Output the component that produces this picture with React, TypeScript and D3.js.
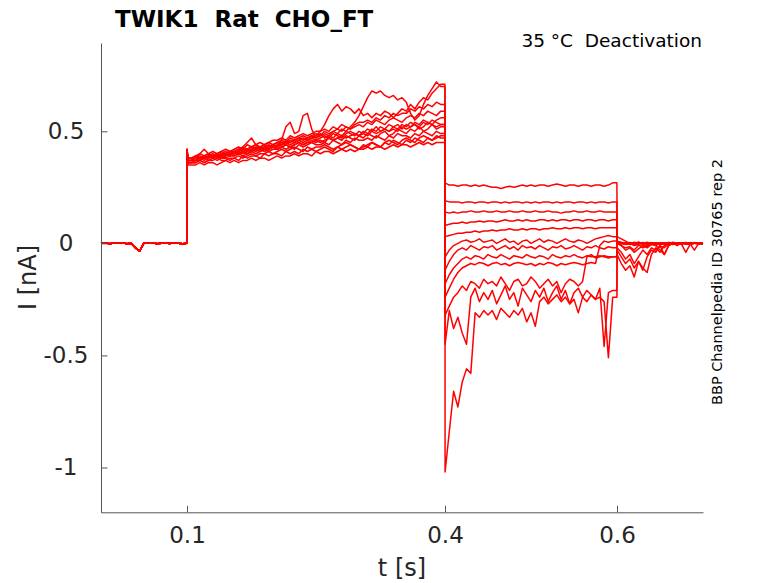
import React, { useEffect, useRef } from "react";
import * as d3 from "d3";

// ---- text ----
const titleText = "TWIK1  Rat  CHO_FT";
const conditionText = "35 °C  Deactivation";
const sourceText = "BBP Channelpedia ID 30765 rep 2";
const xLabel = "t [s]";
const yLabel = "I [nA]";
const xTicks = [0.1, 0.4, 0.6];
const yTicks = [-1, -0.5, 0, 0.5];

// All current values below are in units of 0.01 nA.

// holding level before the step, t = 0 .. 0.095 (5 ms steps)
const preI = [0, 0.3, -0.2, 0.2, 0, 0.3, -0.2, 0.1, -2, -3.5, 0.2, 0, 0.3, -0.2, 0.1, 0.2, -0.1, 0.3, 0, -0.2];

// capacitive spike at the onset of the step (t = 0.1)
const onsetSpike = [41, 40, 42, 39, 41, 40, 42, 41, 40, 39, 41, 42];

// activation phase, t = 0.105 .. 0.395 (5 ms steps)
const ramp1 = [35,35,36,35,36,36,35,36,37,36, 37,36,37,37,38,37,38,38,37,38, 39,38,39,39,40,39,40,40,39,41, 40,41,41,40,41,42,41,42,41,42, 42,43,42,43,43,42,43,44,43,44, 44,43,44,45,44,45,44,45,45];
const ramp2 = [36,36,37,36,37,37,38,37,37,38, 38,37,39,38,39,39,38,40,39,40, 40,39,41,40,41,40,42,41,42,41, 42,43,42,41,43,42,43,44,43,42, 44,43,45,44,43,45,44,46,45,44, 46,45,47,46,45,47,46,47,48];
const ramp3 = [37,38,40,42,40,39,38,39,38,39, 39,40,39,40,41,40,41,42,41,42, 42,43,42,43,42,44,43,44,45,44, 44,45,44,46,45,44,46,45,47,46, 46,47,46,48,47,46,48,47,49,48, 48,47,49,48,50,49,48,50,49];
const ramp4 = [36,37,37,38,37,38,39,38,39,40, 40,41,43,45,47,44,42,41,42,43, 42,43,44,43,44,45,44,45,46,45, 46,45,47,46,47,46,48,47,46,48, 47,49,48,47,49,50,48,49,51,50, 49,51,50,52,50,51,53,51,52];
const ramp5 = [37,38,37,38,39,38,39,40,39,40, 40,41,40,41,42,41,42,43,42,43, 43,46,52,54,49,50,57,58,51,47, 49,47,48,47,49,48,50,49,48,50, 49,51,50,52,50,51,53,52,51,53, 52,54,53,52,54,53,55,54,53];
const ramp6 = [37,37,38,38,39,38,39,40,40,39, 41,40,41,42,41,42,43,42,43,44, 43,44,45,44,45,46,45,46,47,46, 47,48,47,49,48,47,49,50,49,48, 50,49,51,50,52,51,50,52,53,51, 53,52,54,53,55,54,53,55,56];
const ramp7 = [37,38,38,39,38,39,40,39,40,41, 40,41,42,41,42,43,42,43,44,43, 44,45,44,46,45,46,47,46,47,48, 50,53,57,60,62,59,61,60,58,60, 57,58,56,58,57,59,58,56,58,60, 59,62,60,63,65,64,67,69,71];
const ramp8 = [38,38,39,38,39,40,39,40,41,40, 41,42,41,42,43,42,43,44,43,44, 45,44,46,45,46,47,46,47,48,47, 48,49,48,50,49,51,50,52,54,57, 61,65,68,67,68,66,65,66,64,65, 63,58,55,57,62,66,69,72,70];
const ramp9 = [38,39,38,39,40,39,40,41,40,41, 41,42,43,42,43,44,43,44,45,44, 45,46,45,47,46,47,48,47,48,49, 48,50,49,50,51,50,52,51,52,53, 52,54,53,55,54,53,55,56,55,54, 56,57,56,58,57,59,58,57,59];
const ramp10 = [36,36,37,36,37,38,37,38,38,37, 38,39,38,39,40,39,40,40,41,40, 41,42,41,42,43,42,41,43,42,43, 43,44,43,42,43,44,45,44,43,42, 43,44,45,44,43,45,46,45,44,46, 47,46,45,47,48,47,46,48,47];
const ramp11 = [37,37,38,37,38,39,38,39,39,40, 39,40,41,40,41,42,41,42,42,43, 42,43,44,43,44,45,44,45,45,46, 45,46,47,46,47,48,47,48,49,48, 49,48,50,49,50,51,50,51,50,52, 51,52,53,51,52,54,53,52,53];
const ramp12 = [38,39,40,39,40,41,40,41,42,41, 42,43,42,44,43,44,45,44,45,46, 46,47,46,48,47,48,49,48,49,50, 50,51,50,52,51,53,52,51,53,54, 54,55,54,56,55,57,56,58,57,58, 58,60,59,61,60,62,61,63,62];

// deactivation tails, t = 0.4 (just after) then 0.405 .. 0.595
const tailA = [27, 26,26,25.5,26,26,25.5,26,25.5,26,25.5, 25,25,24.5,25,25.5,25,25.5,26,25.5,26, 25.5,26,26,25.5,26,26.5,26,25.5,26,26, 25.5,26,26,25.5,26,26,25.5,26,27];
const tailB = [19, 18.5,18.5,18.5,18,18.5,18.5,18,18.5,18.5,18, 18.5,18.5,18,18.5,18,18.5,18.5,18,18.5,18, 18.5,18,18.5,18.5,18,18.5,18,18.5,18.5,18, 18.5,18.5,18,18.5,18,18.5,18.5,18,18.5];
const tailC = [14, 13.5,14,13.5,14,14,14.5,14,14,14.5,14, 14,14.5,14,14,14.5,14,14,14.5,14,14, 14.5,14,14,14.5,14,14,13.5,14,14,14.5, 14,14,14.5,14,14,14.5,14,14,14];
const tailD = [8, 8.5,9,9,9.5,9,9.5,9.5,10,9.5,10, 10,9.5,10,10.5,10,10,10.5,10,10.5,10, 10,10.5,10.5,10,10.5,10,10.5,10.5,10,10.5, 10.5,10,10.5,10.5,10,10.5,10.5,10,10.5];
const tailE = [3, 3.5,4,4.5,4.5,5,5,5.5,5,5.5,5.5, 6,5.5,6,6,6.5,6,6,6.5,6,6.5, 6.5,6,6.5,6.5,7,6.5,6.5,7,6.5,7, 7,6.5,7,7,6.5,7,7,7,7];
const tailF = [-6, -3,-1,0,1,1.5,0.5,1,2,0.5,1, 1.5,0,1,2,0.5,1,-0.5,1,1.5,0, 1,2,0.5,1.5,1,0,1,2,1,0.5, 1.5,1,0,1,2,2.5,3,3.5,3];
const tailG = [-12, -8,-5,-3,-2,-3,-1,-2,-3,-1.5,-2, -1,-3,-2,-1,-2.5,-1.5,-3,-1,-2,-1.5, -2.5,-1,-2,-3,-1.5,-2,-1,-2.5,-2,-1, -2,-3,-1.5,-2,-1,-2,-2.5,-1.5,-2];
const tailH = [-18, -14,-11,-9,-7,-6,-7,-5.5,-6,-7,-5, -6,-6.5,-5,-6,-7,-5.5,-6,-6.5,-5,-6, -6.5,-5.5,-6,-7,-5,-6,-6.5,-5.5,-6,-5, -6,-6.5,-5.5,-6,-6,-5.5,-6,-6.5,-6];
const tailI = [-24, -20,-16,-13,-11,-10,-9,-9.5,-8.5,-9,-10, -9,-8.5,-9.5,-9,-10,-9,-8.5,-9,-9.5,-9, -10,-9,-9.5,-8.5,-9,-10,-9,-9.5,-9,-8.5, -9,-9.5,-9,-8.5,-9,-1,1,0.5,1];
const tailJ = [-32, -28,-24,-22,-19,-21,-17,-18,-20,-16,-18, -17,-19,-15,-18,-21,-17,-16,-19,-18,-15, -17,-20,-18,-16,-19,-17,-22,-18,-16,-17, -19,-17,-6,-5,-6.5,-6,-5.5,-6,-6];
const tailK = [-45, -30,-38,-33,-40,-45,-24,-20,-26,-22,-25, -21,-27,-23,-19,-25,-22,-28,-20,-23,-26, -21,-24,-20,-26,-22,-19,-25,-21,-27,-22, -20,-24,-21,-23,-25,-20,-46,-22,-21];
const tailL = [-102, -84,-66,-73,-62,-56,-58,-31,-33,-30,-32, -30,-34,-29,-31,-33,-30,-32,-29,-35,-31, -37,-26,-24,-27,-25,-23,-26,-24,-27,-25, -31,-24,-26,-23,-25,-24,-26,-51,-24];

// after the step, t = 0.6 (just after) then 0.605 .. 0.7
const postA = [1,0.5,0,-0.5,0,0.5,0,-0.3,0.2,0,-0.5,0.3,0,0.2,-0.3,0,0.4,-0.2,0,0.3,-0.2];
const postB = [0.5,-0.3,0.2,0,-0.5,0.3,0,0.5,-0.2,0.2,0,-0.3,0.4,0,-0.2,0.3,0,-0.4,0.2,0,0.3];
const postC = [0,0.3,-0.2,0.4,0,-0.3,0.2,0,-0.5,0.3,0.1,0,-0.2,0.5,0,-0.3,0.2,0,0.4,-0.1,0];
const postD = [-0.5,0.2,0,-0.3,0.5,0,0.2,-0.4,0,0.3,-0.2,0,0.4,-0.3,0,0.2,-0.2,0.3,0,-0.3,0.2];
const postE = [0.3,0,-0.4,0.2,0,0.5,-0.2,0,0.3,-0.3,0,0.2,-0.5,0,0.3,0,-0.2,0.4,0,-0.3,0];
const postF = [3,2,1,0,-1,-0.5,-2,-1,0,-1,-3,-5,-1,0,-0.5,0.3,0,-0.4,0.2,0,-0.3];
const postG = [1,0,-0.5,0.3,-0.8,0,0.4,-0.3,0,-0.5,0.2,0,-0.4,0.3,0,-0.3,-4,-0.5,0.2,0,0.3];
const postH = [0,-1,-2,-1.5,-3,-1,-0.5,-1.5,0,-0.8,0,0.3,-0.5,0,0.2,-0.3,0,-0.2,-3,0,-0.2];
const postI = [0.5,-1,-3,-2,-4,-2.5,-1,-2,-0.5,-1,0,-0.5,0.3,0,-0.4,0.2,0,-0.3,0,0.2,0];
const postJ = [-2,-4,-7,-5,-9,-6,-3,-5,-2,-3,-1,-2,0,-0.5,0.3,0,-0.3,0.2,0,-0.2,0];
const postK = [-3,-6,-9,-7,-11,-8,-12,-6,-3,-4,-1,-5,-1,0,-0.5,0.2,0,-0.3,0,0.3,-0.2];
const postL = [-5,-9,-12,-10,-15,-8,-11,-13,-5,-2,-4,-1,-0.5,0,-1,0.3,0,-0.5,0.2,0,-0.3];

const sweeps = [
  { ramp: ramp1, tail: tailF, post: postF },
  { ramp: ramp2, tail: tailI, post: postI },
  { ramp: ramp3, tail: tailA, post: postA },
  { ramp: ramp4, tail: tailK, post: postK },
  { ramp: ramp5, tail: tailC, post: postC },
  { ramp: ramp6, tail: tailG, post: postG },
  { ramp: ramp7, tail: tailB, post: postB },
  { ramp: ramp8, tail: tailL, post: postL },
  { ramp: ramp9, tail: tailD, post: postD },
  { ramp: ramp10, tail: tailJ, post: postJ },
  { ramp: ramp11, tail: tailE, post: postE },
  { ramp: ramp12, tail: tailH, post: postH },
];

const W = 778;
const H = 583;
const FONT = "'DejaVu Sans', sans-serif";
const TXT = "#262626";

function buildSweep(i: number): [number, number][] {
  const s = sweeps[i];
  const pts: [number, number][] = [];
  preI.forEach((v, k) => pts.push([k * 0.005, v]));
  pts.push([0.0999, 0]);
  pts.push([0.1001, onsetSpike[i]]);
  pts.push([0.1012, s.ramp[0]]);
  s.ramp.forEach((v, k) => pts.push([0.105 + 0.005 * k, v]));
  pts.push([0.3999, s.ramp[s.ramp.length - 1]]);
  s.tail.forEach((v, k) => pts.push([k === 0 ? 0.4001 : 0.4 + 0.005 * k, v]));
  pts.push([0.5999, s.tail[s.tail.length - 1]]);
  s.post.forEach((v, k) => pts.push([k === 0 ? 0.6001 : 0.6 + 0.005 * k, v]));
  return pts.map(([t, v]) => [t, v / 100]);
}

export default function App() {
  const ref = useRef<SVGSVGElement>(null);

  useEffect(() => {
    const svg = d3.select(ref.current);
    svg.selectAll("*").remove();

    const x = d3.scaleLinear().domain([0, 0.7]).range([101, 703]);
    const y = d3.scaleLinear().domain([-1.2, 0.894]).range([512.3, 43]);

    // traces
    const line = d3
      .line<[number, number]>()
      .x((d) => x(d[0]))
      .y((d) => y(d[1]));
    const g = svg.append("g");
    sweeps.forEach((_, i) => {
      g.append("path")
        .attr("d", line(buildSweep(i)) as string)
        .attr("fill", "none")
        .attr("stroke", "#ff0000")
        .attr("stroke-width", 1.5)
        .attr("stroke-linejoin", "round");
    });

    // x axis
    const xa = svg
      .append("g")
      .attr("transform", `translate(0,${y(-1.2)})`)
      .call(
        d3
          .axisBottom(x)
          .tickValues(xTicks)
          .tickFormat((d) => d3.format(".1f")(d as number))
          .tickSizeInner(-6.5)
          .tickSizeOuter(0)
          .tickPadding(14)
      );
    // y axis
    const ya = svg
      .append("g")
      .attr("transform", `translate(${x(0)},0)`)
      .call(
        d3
          .axisLeft(y)
          .tickValues(yTicks)
          .tickFormat((d) => String(d))
          .tickSizeInner(-6.5)
          .tickSizeOuter(0)
          .tickPadding(0)
      );
    [xa, ya].forEach((a) => {
      a.select(".domain").attr("stroke", "#555").attr("stroke-width", 1);
      a.selectAll(".tick line").attr("stroke", "#555").attr("stroke-width", 1);
      a.selectAll(".tick text")
        .attr("fill", TXT)
        .style("font-family", FONT)
        .style("font-size", "23px");
    });
    ya.selectAll(".tick text").attr("text-anchor", "middle").attr("x", -35);

    // labels
    svg
      .append("text")
      .attr("x", 402)
      .attr("y", 576)
      .attr("text-anchor", "middle")
      .attr("fill", TXT)
      .style("font-family", FONT)
      .style("font-size", "24px")
      .text(xLabel);
    svg
      .append("text")
      .attr("transform", "translate(35.5,277.5) rotate(-90)")
      .attr("text-anchor", "middle")
      .attr("fill", TXT)
      .style("font-family", FONT)
      .style("font-size", "24px")
      .text(yLabel);

    // title and annotations
    svg
      .append("text")
      .attr("x", 115)
      .attr("y", 27)
      .attr("fill", "#000")
      .style("font-family", FONT)
      .style("font-weight", "bold")
      .style("font-size", "23px")
      .style("white-space", "pre")
      .text(titleText);
    svg
      .append("text")
      .attr("x", 702)
      .attr("y", 47)
      .attr("text-anchor", "end")
      .attr("fill", "#000")
      .style("font-family", FONT)
      .style("font-size", "18.5px")
      .style("white-space", "pre")
      .text(conditionText);
    svg
      .append("text")
      .attr("transform", "translate(721.5,282) rotate(-90)")
      .attr("text-anchor", "middle")
      .attr("fill", "#000")
      .style("font-family", FONT)
      .style("font-size", "14.5px")
      .text(sourceText);
  }, []);

  return (
    <svg
      ref={ref}
      width={W}
      height={H}
      style={{ position: "absolute", left: 0, top: 0, display: "block", background: "#fff" }}
    />
  );
}
